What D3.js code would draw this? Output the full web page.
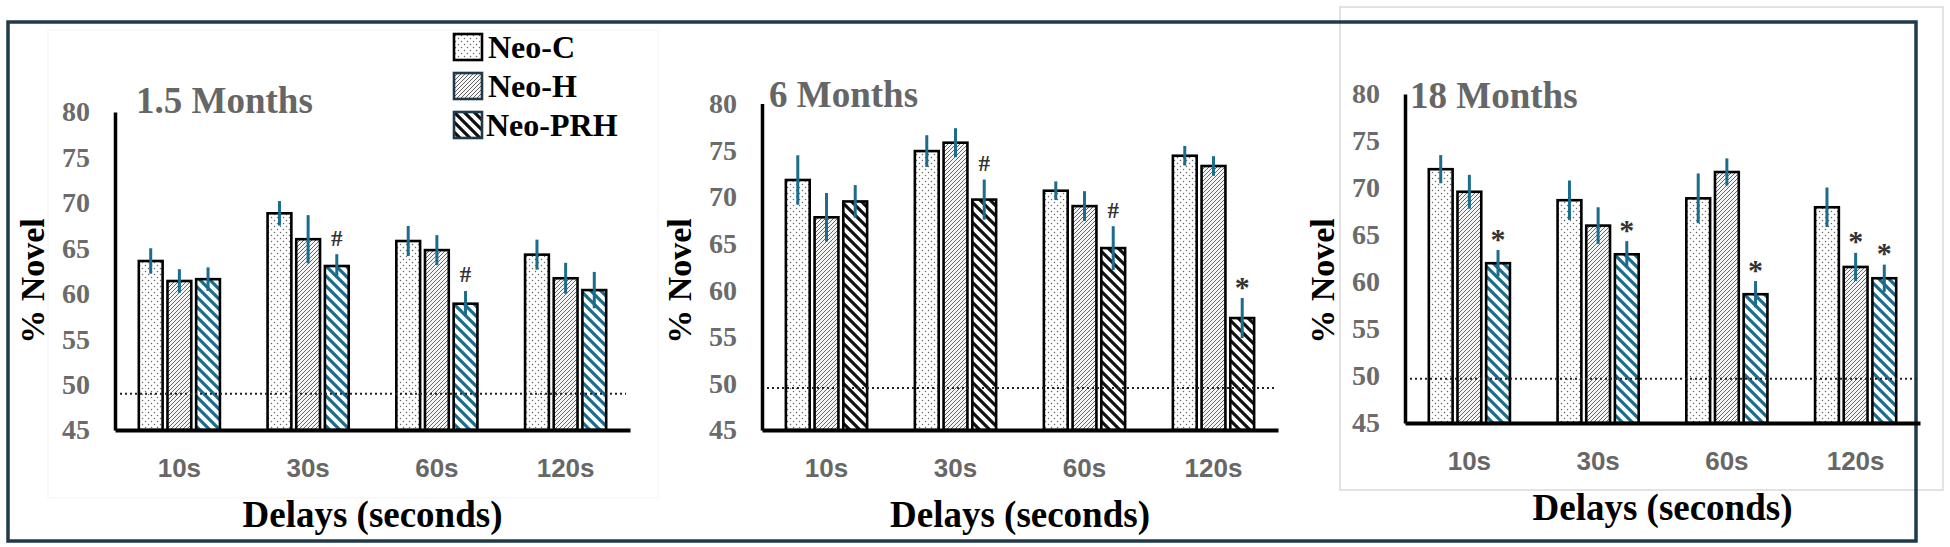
<!DOCTYPE html>
<html>
<head>
<meta charset="utf-8">
<script src="https://cdn.jsdelivr.net/npm/d3@7"></script>
<style>
  body { margin: 0; background: #fff; }
  svg { display: block; }
</style>
</head>
<body>
<div id="wrapper"></div>
<script>
// categories
const delays = ["10s", "30s", "60s", "120s"];
const groups = ["Neo-C", "Neo-H", "Neo-PRH"];
const yTicks = [45, 50, 55, 60, 65, 70, 75, 80];
const titles = ["1.5 Months", "6 Months", "18 Months"];

// % novel, one row per group (Neo-C, Neo-H, Neo-PRH), one column per delay
const means15 = [[63.6, 68.85, 65.8, 64.3], [61.4, 66.0, 64.8, 61.7], [61.6, 63.05, 58.9, 60.4]];
const means6 = [[71.8, 74.9, 70.65, 74.4], [67.8, 75.8, 69.0, 73.3], [69.5, 69.7, 64.5, 57.0]];
const means18 = [[72.0, 68.7, 68.9, 67.95], [69.6, 66.0, 71.7, 61.6], [62.0, 62.95, 58.7, 60.4]];

// error bar half-lengths
const err15 = [[1.4, 1.35, 1.65, 1.65], [1.3, 2.65, 1.65, 1.7], [1.3, 1.3, 1.4, 2.0]];
const err6 = [[2.65, 1.7, 1.0, 1.05], [2.6, 1.55, 1.6, 1.05], [1.75, 2.15, 2.35, 2.15]];
const err18 = [[1.5, 2.1, 2.65, 2.1], [1.8, 1.95, 1.45, 1.5], [1.4, 1.4, 1.4, 1.45]];

// significance marks
const marks15 = [["", "", "", ""], ["", "", "", ""], ["", "#", "#", ""]];
const marks6 = [["", "", "", ""], ["", "", "", ""], ["", "#", "#", "*"]];
const marks18 = [["", "", "", ""], ["", "", "", "*"], ["*", "*", "*", "*"]];

// chance level (dotted line)
const chance = [49.0, 49.5, 49.7];

const width = 1950, height = 547;
const teal = "#1b6c8d";
const frameColor = "#203a4b";
const serif = "'Liberation Serif', 'Times New Roman', serif";
const sans = "'Liberation Sans', Arial, sans-serif";

const svg = d3.select("#wrapper").append("svg")
    .attr("width", width)
    .attr("height", height);
svg.append("rect").attr("width", width).attr("height", height).attr("fill", "#fff");

// patterns
const defs = svg.append("defs");
const dots = defs.append("pattern").attr("id", "dots")
    .attr("patternUnits", "userSpaceOnUse").attr("width", 6).attr("height", 6);
dots.append("rect").attr("width", 6).attr("height", 6).attr("fill", "#fff");
dots.append("circle").attr("cx", 1.5).attr("cy", 1.5).attr("r", 0.75).attr("fill", "#666");
dots.append("circle").attr("cx", 4.5).attr("cy", 4.5).attr("r", 0.75).attr("fill", "#666");

const hatch = defs.append("pattern").attr("id", "hatch")
    .attr("patternUnits", "userSpaceOnUse").attr("width", 4).attr("height", 4);
hatch.append("rect").attr("width", 4).attr("height", 4).attr("fill", "#f6f6f6");
hatch.append("path").attr("d", "M-1,1 L1,-1 M0,4 L4,0 M3,5 L5,3")
    .attr("stroke", "#666").attr("stroke-width", 1);

function stripes(id, color) {
    const p = defs.append("pattern").attr("id", id)
        .attr("patternUnits", "userSpaceOnUse").attr("width", 10).attr("height", 10);
    p.append("rect").attr("width", 10).attr("height", 10).attr("fill", "#fff");
    p.append("path").attr("d", "M-2,-2 L12,12 M-2,8 L2,12 M8,-2 L12,2")
        .attr("stroke", color).attr("stroke-width", 3.2);
}
stripes("stripesTeal", teal);
stripes("stripesBlack", "#111");

// faint background boxes of the pasted panels
svg.append("rect").attr("x", 48).attr("y", 30).attr("width", 610).attr("height", 468)
    .attr("fill", "none").attr("stroke", "#f7f7f7").attr("stroke-width", 1.5);
svg.append("rect").attr("x", 1340).attr("y", 7).attr("width", 603).attr("height", 483)
    .attr("fill", "none").attr("stroke", "#d9d9d9").attr("stroke-width", 1.5);

// outer frame
svg.append("rect").attr("x", 8).attr("y", 22).attr("width", 1908).attr("height", 519)
    .attr("fill", "none").attr("stroke", frameColor).attr("stroke-width", 3.5);

const panels = [
    { title: titles[0], means: means15, err: err15, marks: marks15, chance: chance[0],
      prh: "stripesTeal", x0: 115, x1: 630, yTop: 112, yBot: 430, titleX: 136, titleY: 113 },
    { title: titles[1], means: means6, err: err6, marks: marks6, chance: chance[1],
      prh: "stripesBlack", x0: 762, x1: 1278, yTop: 103.5, yBot: 430, titleX: 769, titleY: 107 },
    { title: titles[2], means: means18, err: err18, marks: marks18, chance: chance[2],
      prh: "stripesTeal", x0: 1405, x1: 1920, yTop: 94, yBot: 423, titleX: 1410, titleY: 108 }
];

function drawPanel(p) {
    const g = svg.append("g");
    const fills = ["url(#dots)", "url(#hatch)", `url(#${p.prh})`];

    const y = d3.scaleLinear().domain([45, 80]).range([p.yBot, p.yTop]);
    const xOuter = d3.scaleBand().domain(delays).range([p.x0, p.x1])
        .paddingInner(0.37).paddingOuter(0.185);
    const xInner = d3.scaleBand().domain(groups).range([0, xOuter.bandwidth()])
        .paddingInner(0.17);

    const rows = [];
    groups.forEach((grp, gi) => {
        delays.forEach((dl, di) => {
            rows.push({ grp, gi, dl, v: p.means[gi][di], e: p.err[gi][di], m: p.marks[gi][di] });
        });
    });

    // bars
    g.selectAll("rect.bar").data(rows).join("rect")
        .attr("class", "bar")
        .attr("x", d => xOuter(d.dl) + xInner(d.grp))
        .attr("y", d => y(d.v))
        .attr("width", xInner.bandwidth())
        .attr("height", d => y(45) - y(d.v))
        .attr("fill", d => fills[d.gi])
        .attr("stroke", "#000")
        .attr("stroke-width", 2.6);

    // chance line
    g.append("line")
        .attr("x1", p.x0).attr("x2", p.x1 - 4)
        .attr("y1", y(p.chance)).attr("y2", y(p.chance))
        .attr("stroke", "#222").attr("stroke-width", 2)
        .attr("stroke-dasharray", "2,3");

    // error bars
    g.selectAll("line.err").data(rows).join("line")
        .attr("class", "err")
        .attr("x1", d => xOuter(d.dl) + xInner(d.grp) + xInner.bandwidth() / 2)
        .attr("x2", d => xOuter(d.dl) + xInner(d.grp) + xInner.bandwidth() / 2)
        .attr("y1", d => y(d.v + d.e))
        .attr("y2", d => y(d.v - d.e))
        .attr("stroke", teal).attr("stroke-width", 3);

    // significance marks
    g.selectAll("text.mark").data(rows.filter(d => d.m)).join("text")
        .attr("class", "mark")
        .attr("x", d => xOuter(d.dl) + xInner(d.grp) + xInner.bandwidth() / 2)
        .attr("y", d => y(d.v + d.e) - (d.m === "#" ? 8.5 : 1.5))
        .attr("text-anchor", "middle")
        .attr("font-family", serif)
        .attr("font-size", d => d.m === "#" ? 23 : 30)
        .attr("font-weight", "bold")
        .attr("fill", "#333")
        .text(d => d.m);

    // y axis
    const yAxis = g.append("g").attr("transform", `translate(${p.x0},0)`)
        .call(d3.axisLeft(y).tickValues(yTicks).tickSize(0).tickSizeOuter(0).tickPadding(25));
    yAxis.select(".domain").attr("stroke", "#000").attr("stroke-width", 3.5);
    yAxis.selectAll(".tick text")
        .attr("font-family", serif).attr("font-weight", "bold")
        .attr("font-size", 28).attr("fill", "#6b6b6b");

    // x axis
    const xAxis = g.append("g").attr("transform", `translate(0,${p.yBot})`)
        .call(d3.axisBottom(xOuter).tickSize(0).tickSizeOuter(0));
    xAxis.select(".domain").attr("stroke", "#000").attr("stroke-width", 4);
    xAxis.selectAll(".tick text")
        .attr("y", 47).attr("dy", 0)
        .attr("font-family", sans).attr("font-weight", "bold")
        .attr("font-size", 26).attr("fill", "#676767");

    // titles
    g.append("text")
        .attr("x", p.titleX).attr("y", p.titleY)
        .attr("font-family", serif).attr("font-weight", "bold")
        .attr("font-size", 37).attr("fill", "#666")
        .text(p.title);

    g.append("text")
        .attr("transform", `translate(${p.x0 - 83},281) rotate(-90)`)
        .attr("text-anchor", "middle").attr("dominant-baseline", "central")
        .attr("font-family", serif).attr("font-weight", "bold")
        .attr("font-size", 34).attr("fill", "#000")
        .text("% Novel");

    g.append("text")
        .attr("x", (p.x0 + p.x1) / 2).attr("y", p.yBot + 97)
        .attr("text-anchor", "middle")
        .attr("font-family", serif).attr("font-weight", "bold")
        .attr("font-size", 37).attr("fill", "#000")
        .text("Delays (seconds)");
}

panels.forEach(drawPanel);

// legend
const legendFills = ["url(#dots)", "url(#hatch)", "url(#stripesBlack)"];
const legendBorders = ["#000", frameColor, frameColor];
const legend = svg.append("g").attr("transform", "translate(454,34)");
const item = legend.selectAll("g").data(groups).join("g")
    .attr("transform", (d, i) => `translate(0,${i * 39})`);
item.append("rect")
    .attr("width", 28).attr("height", 26)
    .attr("fill", (d, i) => legendFills[i])
    .attr("stroke", (d, i) => legendBorders[i])
    .attr("stroke-width", 2.6);
item.append("text")
    .attr("x", (d, i) => i === 2 ? 32 : 34).attr("y", 23.5)
    .attr("font-family", serif).attr("font-weight", "bold")
    .attr("font-size", 32).attr("fill", "#000")
    .text(d => d);
</script>
</body>
</html>
